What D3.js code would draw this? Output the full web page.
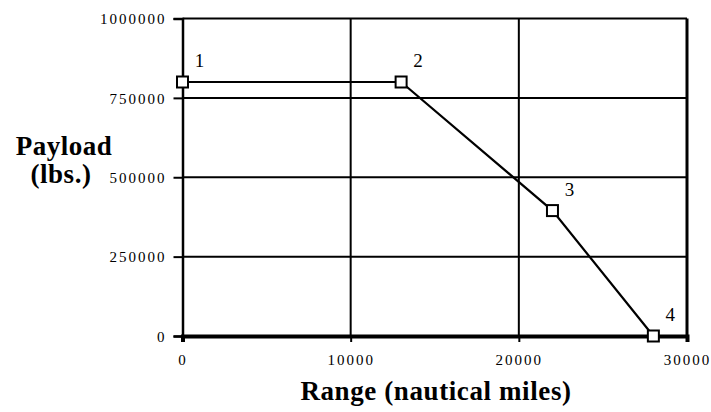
<!DOCTYPE html>
<html>
<head>
<meta charset="utf-8">
<script src="https://cdn.jsdelivr.net/npm/d3@7"></script>
<style>
  html, body { margin: 0; padding: 0; background: #fff; }
  svg { display: block; }
  text { font-family: "Liberation Serif", "Times New Roman", serif; fill: #000; }
</style>
</head>
<body>
<svg id="chart" width="711" height="412"></svg>
<script>
// Payload–range diagram
const pointIds   = ["1", "2", "3", "4"];
const rangeNm    = [0, 13000, 22000, 28000];
const payloadLbs = [800000, 800000, 395000, 0];
const xTicks = [0, 10000, 20000, 30000];
const yTicks = [0, 250000, 500000, 750000, 1000000];

const svg = d3.select("#chart");
const x = d3.scaleLinear().domain([0, 30000]).range([182.5, 687]);
const y = d3.scaleLinear().domain([0, 1000000]).range([336, 18.5]);

// grid lines
svg.append("g").selectAll("line.h").data(yTicks.filter(d => d > 0)).join("line")
  .attr("x1", x(0)).attr("x2", x(30000))
  .attr("y1", d => y(d)).attr("y2", d => y(d))
  .attr("stroke", "#000").attr("stroke-width", 2);
svg.append("g").selectAll("line.v").data(xTicks.filter(d => d > 0)).join("line")
  .attr("x1", d => x(d)).attr("x2", d => x(d))
  .attr("y1", y(1000000)).attr("y2", y(0))
  .attr("stroke", "#000").attr("stroke-width", d => d === 30000 ? 3 : 2);

// axes
const yAxis = d3.axisLeft(y).tickValues(yTicks).tickSize(9).tickPadding(7).tickFormat(d3.format("d"));
const gy = svg.append("g").attr("transform", `translate(${x(0)},0)`).call(yAxis);
gy.select(".domain").attr("stroke-width", 2.5);
gy.selectAll(".tick line").attr("stroke-width", 2);
gy.selectAll(".tick text").style("font-size", "15px").style("letter-spacing", "2px")
  .attr("dy", "0.35em");

const xAxis = d3.axisBottom(x).tickValues(xTicks).tickSize(6).tickPadding(12).tickFormat(d3.format("d"));
const gx = svg.append("g").attr("transform", `translate(0,${y(0)})`).call(xAxis);
gx.select(".domain").attr("stroke-width", 4);
gx.selectAll(".tick line").attr("stroke-width", 2);
gx.selectAll(".tick text").style("font-size", "15px").style("letter-spacing", "2px");
svg.selectAll(".domain").attr("stroke", "#000");

// data line
const pts = rangeNm.map((r, i) => ({ id: pointIds[i], r, p: payloadLbs[i] }));
svg.append("path").datum(pts)
  .attr("d", d3.line().x(d => x(d.r)).y(d => y(d.p)))
  .attr("fill", "none").attr("stroke", "#000").attr("stroke-width", 2.2);

svg.append("g").selectAll("rect").data(pts).join("rect")
  .attr("x", d => x(d.r) - 5.5).attr("y", d => y(d.p) - 5.5)
  .attr("width", 11).attr("height", 11)
  .attr("fill", "#fff").attr("stroke", "#000").attr("stroke-width", 2);

svg.append("g").selectAll("text").data(pts).join("text")
  .attr("x", d => x(d.r) + 17).attr("y", d => y(d.p) - 15)
  .attr("text-anchor", "middle")
  .style("font-size", "19px")
  .text(d => d.id);

// axis titles
svg.append("text").attr("x", 64).attr("y", 155).attr("text-anchor", "middle")
  .style("font-size", "27px").style("font-weight", "bold").style("letter-spacing", "0.5px").text("Payload");
svg.append("text").attr("x", 61).attr("y", 183).attr("text-anchor", "middle")
  .style("font-size", "27px").style("font-weight", "bold").style("letter-spacing", "0.5px").text("(lbs.)");
svg.append("text").attr("x", 436).attr("y", 400).attr("text-anchor", "middle")
  .style("font-size", "27px").style("font-weight", "bold").style("letter-spacing", "0.6px")
  .text("Range (nautical miles)");
</script>
</body>
</html>
